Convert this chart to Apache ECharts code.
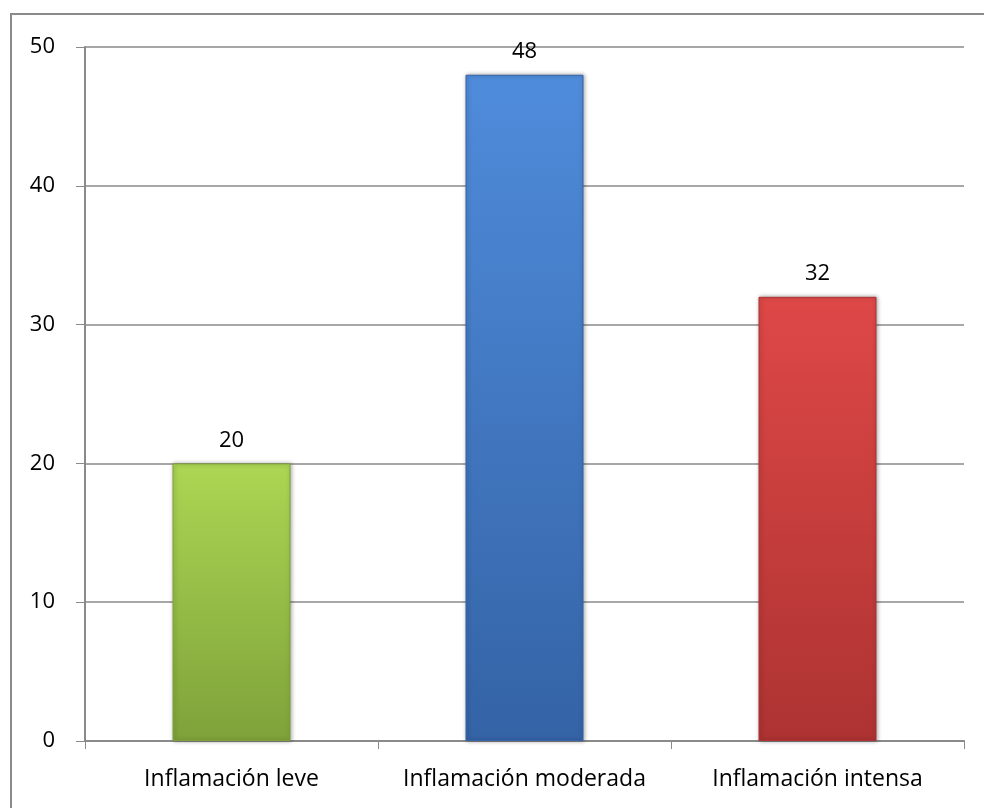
<!DOCTYPE html>
<html>
<head>
<meta charset="utf-8">
<style>
  html, body { margin: 0; padding: 0; background: #ffffff; }
  #chart { width: 984px; height: 808px; }
</style>
<script src="https://cdn.jsdelivr.net/npm/echarts@6/dist/echarts.min.js"></script>
</head>
<body>
<div id="chart"></div>
<script>
// Degree of inflammation: counts per category
const categories = ['Inflamación leve', 'Inflamación moderada', 'Inflamación intensa'];
const values = [20, 48, 32];
const yTicks = { min: 0, max: 50, interval: 10 };

// Top / bottom tones of each bar's shaded fill
const barTopColors = ['#acd653', '#4f8cdb', '#de4847'];
const barBottomColors = ['#7fa23a', '#3463a6', '#ad3332'];

const chart = echarts.init(document.getElementById('chart'), null, { renderer: 'canvas' });

const seriesData = values.map((v, i) => ({
  value: v,
  itemStyle: {
    color: new echarts.graphic.LinearGradient(0, 0, 0, 1, [
      { offset: 0, color: barTopColors[i] },
      { offset: 1, color: barBottomColors[i] }
    ]),
    borderColor: barBottomColors[i],
    borderWidth: 1,
    shadowColor: 'rgba(0,0,0,0.35)',
    shadowBlur: 4,
    shadowOffsetX: 1,
    shadowOffsetY: 0
  }
}));

const font = '"Open Sans", "Noto Sans", sans-serif';

chart.setOption({
  animation: false,
  backgroundColor: '#ffffff',
  graphic: [{
    type: 'rect',
    shape: { x: 11, y: 14, width: 1000, height: 820 },
    style: { fill: 'none', stroke: '#8a8a8a', lineWidth: 2 },
    silent: true
  }],
  grid: { left: 85, top: 47, right: 20, bottom: 67, containLabel: false },
  xAxis: {
    type: 'category',
    data: categories,
    axisLine: { lineStyle: { color: '#8a8a8a', width: 2 } },
    axisTick: { show: true, length: 8, inside: false, lineStyle: { color: '#8a8a8a' } },
    axisLabel: {
      color: '#000', fontSize: 23, fontFamily: font, margin: 27,
      interval: 0, hideOverlap: false
    }
  },
  yAxis: {
    type: 'value',
    min: yTicks.min,
    max: yTicks.max,
    interval: yTicks.interval,
    axisLine: { show: true, lineStyle: { color: '#8a8a8a', width: 2 } },
    axisTick: { show: true, length: 9, lineStyle: { color: '#8a8a8a' } },
    axisLabel: { color: '#000', fontSize: 22, fontFamily: font, margin: 30 },
    splitLine: { show: true, lineStyle: { color: '#8a8a8a', width: 1.5 } }
  },
  series: [{
    type: 'bar',
    data: seriesData,
    barWidth: 118,
    label: {
      show: true,
      position: 'top',
      distance: 12,
      color: '#000',
      fontSize: 22,
      fontFamily: font
    }
  }]
});
</script>
</body>
</html>
